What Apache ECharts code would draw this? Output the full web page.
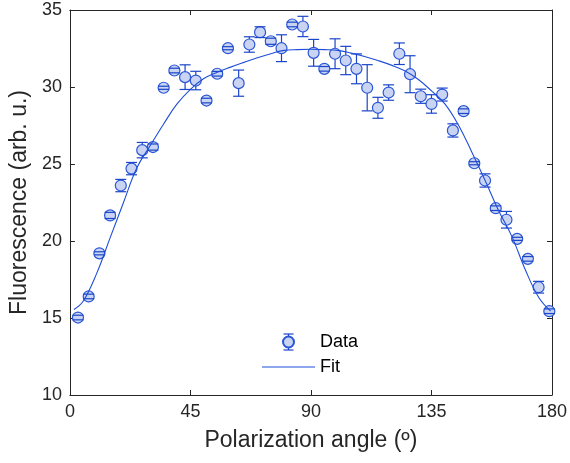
<!DOCTYPE html>
<html>
<head>
<meta charset="utf-8">
<script src="https://cdn.jsdelivr.net/npm/echarts@6/dist/echarts.min.js"></script>
<style>html,body{margin:0;padding:0;background:#fff}#c{width:570px;height:463px}</style>
</head>
<body>
<div id="c"></div>
<script>
const angles = [3,7,11,15,19,23,27,31,35,39,43,47,51,55,59,63,67,71,75,79,83,87,91,95,99,103,107,111,115,119,123,127,131,135,139,143,147,151,155,159,163,167,171,175,179];
const fluorescence = [15.03,16.4,19.2,21.66,23.6,24.7,25.9,26.1,29.95,31.07,30.64,30.42,29.12,30.86,32.52,30.25,32.76,33.56,32.97,32.52,34.06,33.93,32.22,31.18,32.16,31.72,31.18,29.95,28.65,29.64,32.16,30.83,29.4,28.9,29.51,27.18,28.43,25.05,23.93,22.13,21.38,20.14,18.84,17.0,15.44];
const errors = [0.15,0.15,0.1,0.2,0.4,0.4,0.5,0.2,0.1,0.15,0.8,0.6,0.15,0.15,0.1,0.85,0.5,0.35,0.2,0.87,0.15,0.66,0.87,0.15,0.97,0.92,0.97,1.5,0.68,0.5,0.7,1.2,0.46,0.6,0.42,0.43,0.15,0.1,0.43,0.15,0.54,0.1,0.15,0.38,0.15];
const fitAngles = [1.5,5,10,15,20,25,30,35,40,45,50,55,60,65,70,75,80,85,90,95,100,105,110,115,120,125,130,135,140,145,150,155,160,165,170,175,179.5];
const fitValues = [15.55,16.1,17.9,20.2,22.5,24.75,26.2,27.6,28.9,29.85,30.55,30.96,31.29,31.6,31.9,32.16,32.38,32.43,32.45,32.43,32.38,32.2,31.98,31.72,31.42,31.05,30.5,29.75,28.9,27.55,25.8,23.95,22.0,20.3,18.15,16.35,15.45];
const xTicks = [0,45,90,135,180];
const yTicks = [10,15,20,25,30,35];

const FONT = 'Liberation Sans, Arial, sans-serif';
const TXT = '#262626';
const AX = '#262626';
const BAR = '#1a45c8';
const MFILL = '#c8d4f2';
const MEDGE = '#2a55d6';
const LINE = '#1f4ed8';

const pts = angles.map((a,i)=>[a, fluorescence[i]]);
const errData = angles.map((a,i)=>[a, fluorescence[i]-errors[i], fluorescence[i]+errors[i]]);
const fitData = fitAngles.map((a,i)=>[a, fitValues[i]]);

const chart = echarts.init(document.getElementById('c'), null, {renderer:'canvas'});
const axisCommon = {
  axisLine:{show:true, onZero:false, lineStyle:{color:AX, width:1}},
  axisTick:{show:true, inside:true, length:5, lineStyle:{color:AX}},
  splitLine:{show:false}
};
const LW = 1.2;
chart.setOption({
  animation:false,
  backgroundColor:'#fff',
  grid:{left:69, right:18, top:10, bottom:68, containLabel:false},
  xAxis:[
    Object.assign({type:'value', min:0, max:180, interval:45, position:'bottom',
      name:'Polarization angle (º)', nameLocation:'middle', nameGap:34,
      nameTextStyle:{fontFamily:FONT, fontSize:23, color:TXT},
      axisLabel:{fontFamily:FONT, fontSize:18, color:TXT, margin:8,
        formatter:v=>xTicks.includes(v)?String(v):''}}, axisCommon),
    Object.assign({type:'value', min:0, max:180, interval:45, position:'top', axisLabel:{show:false}}, axisCommon)
  ],
  yAxis:[
    Object.assign({type:'value', min:10, max:35, interval:5, position:'left',
      name:'Fluorescence (arb. u.)', nameLocation:'middle', nameGap:38,
      nameTextStyle:{fontFamily:FONT, fontSize:23, color:TXT},
      axisLabel:{fontFamily:FONT, fontSize:18, color:TXT, margin:8,
        formatter:v=>yTicks.includes(v)?String(v):''}}, axisCommon),
    Object.assign({type:'value', min:10, max:35, interval:5, position:'right', axisLabel:{show:false}}, axisCommon)
  ],
  legend:{
    orient:'vertical', left:262, top:333, padding:0, itemWidth:53, itemHeight:11, itemGap:7,
    textStyle:{fontFamily:FONT, fontSize:18, color:'#000'},
    data:[{name:'Data'},{name:'Fit', icon:'path://M0,0 L100,0 L100,2 L0,2 Z'}]
  },
  graphic:[
    {type:'line', z:1, shape:{x1:288.5, y1:334, x2:288.5, y2:350}, style:{stroke:BAR, lineWidth:LW}},
    {type:'line', z:100, shape:{x1:283.5, y1:334, x2:293.5, y2:334}, style:{stroke:BAR, lineWidth:LW}},
    {type:'line', z:100, shape:{x1:283.5, y1:350, x2:293.5, y2:350}, style:{stroke:BAR, lineWidth:LW}}
  ],
  series:[
    {
      name:'stems', type:'custom', z:1, data:errData,
      encode:{x:0, y:[1,2]},
      renderItem:(params, api)=>{
        const x = api.value(0);
        const p1 = api.coord([x, api.value(2)]);
        const p2 = api.coord([x, api.value(1)]);
        return {type:'line', shape:{x1:p1[0], y1:p1[1], x2:p2[0], y2:p2[1]}, style:{stroke:BAR, lineWidth:LW}};
      }
    },
    {
      name:'Data', type:'scatter', z:2, data:pts, symbol:'circle', symbolSize:11,
      itemStyle:{color:MFILL, borderColor:MEDGE, borderWidth:1.2, opacity:1}
    },
    {
      name:'caps', type:'custom', z:3, data:errData,
      encode:{x:0, y:[1,2]},
      renderItem:(params, api)=>{
        const x = api.value(0);
        const p1 = api.coord([x, api.value(2)]);
        const p2 = api.coord([x, api.value(1)]);
        const w = 5.5;
        return {type:'group', children:[
          {type:'line', shape:{x1:p1[0]-w, y1:p1[1], x2:p1[0]+w, y2:p1[1]}, style:{stroke:BAR, lineWidth:LW}},
          {type:'line', shape:{x1:p2[0]-w, y1:p2[1], x2:p2[0]+w, y2:p2[1]}, style:{stroke:BAR, lineWidth:LW}}
        ]};
      }
    },
    {
      name:'Fit', type:'line', z:4, data:fitData, symbol:'none', smooth:0.4,
      lineStyle:{color:LINE, width:1.1}, itemStyle:{color:LINE}
    }
  ]
});
</script>
</body>
</html>
